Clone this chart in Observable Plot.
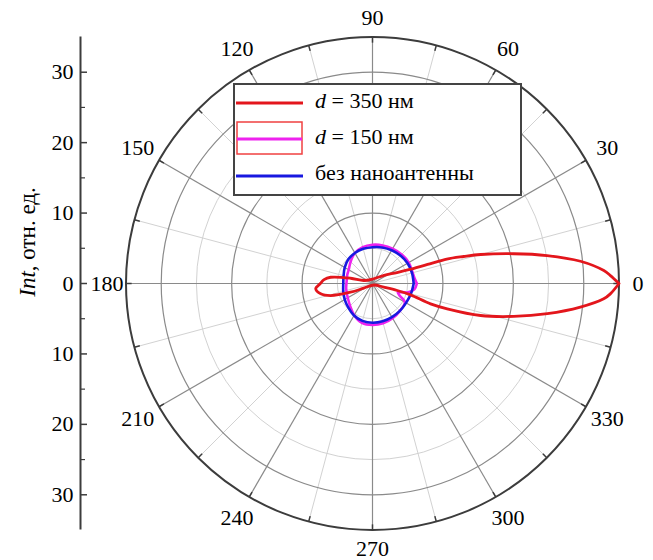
<!DOCTYPE html>
<html>
<head>
<meta charset="utf-8">
<script src="https://cdn.jsdelivr.net/npm/d3@7"></script>
<script src="https://cdn.jsdelivr.net/npm/@observablehq/plot@0.6"></script>
<style>
  body { margin: 0; background: #fff; }
  #wrap { position: relative; width: 653px; height: 560px; font-family: "Liberation Serif", "Times New Roman", serif; }
  #ylabel { position: absolute; left: 28px; top: 242px; transform: translate(-50%, -50%) rotate(-90deg); white-space: nowrap; font-size: 23px; color: #000; font-family: "Liberation Serif", serif; }
  #legend { position: absolute; left: 233px; top: 83px; }
</style>
</head>
<body>
<div id="wrap">
  <div id="chart"></div>
  <div id="ylabel"><i>Int</i>, отн. ед.</div>
  <div id="legend"></div>
</div>
<script>
// ---- data (angle in degrees, intensity in rel. units) ----
const redAngle = [0, 1.9, 3.2, 6.1, 9.1, 11.9, 15, 16.5, 18.2, 18.9, 20.5, 24, 35.3, 74.5, 161, 166.5, 171.5, 175.4, 180, 185.3, 191.2, 196, 201.6, 208, 315, 342, 344.2, 343.4, 340.7, 341.3, 343.5, 346.9, 350.2, 353.5, 356.2, 357.5, 360];
const redInt   = [35, 33.8, 32.9, 29.7, 25.1, 20.5, 15.9, 13.5, 11.1, 8.6, 5.8, 3.8, 2.0, 0.7, 1.3, 3.2, 6.0, 6.9, 7.4, 8.1, 7.5, 6.2, 3.36, 1.4, 0.3, 1.69, 3.65, 5.63, 8.73, 11.2, 16, 20.6, 25.2, 29.7, 32.9, 33.8, 35];

const magAngle = [0, 8, 15, 30, 45, 60, 75, 90, 105, 120, 130, 140, 150, 160, 170, 180, 190, 200, 212, 225, 240, 255, 270, 285, 300, 315, 330, 336, 341, 346, 352, 360];
const magInt   = [6.3, 6.0, 5.9, 5.95, 5.85, 5.7, 5.6, 5.5, 5.35, 5.0, 4.6, 4.2, 3.9, 3.8, 3.7, 3.7, 3.8, 3.9, 4.1, 4.5, 5.2, 5.8, 5.9, 5.85, 5.7, 5.5, 5.3, 4.2, 3.8, 5.2, 6.0, 6.3];

const blueAngle = [0, 15, 30, 45, 60, 75, 90, 105, 120, 135, 150, 165, 180, 195, 210, 225, 240, 255, 270, 285, 300, 315, 330, 345, 360];
const blueInt   = [5.85, 5.8, 5.75, 5.6, 5.45, 5.3, 5.15, 5.1, 5.0, 4.85, 4.55, 4.25, 4.15, 4.3, 4.55, 4.85, 5.25, 5.5, 5.58, 5.55, 5.5, 5.5, 5.5, 5.65, 5.85];

const majorRings = [10, 20, 30];
const minorRings = [5, 15, 25];
const outerRing = [35];
const majorAngles = [0, 30, 60, 90, 120, 150, 180, 210, 240, 270, 300, 330];
const minorAngles = [15, 45, 75, 105, 135, 165, 195, 225, 255, 285, 315, 345];
const angleLabels = ["0", "30", "60", "90", "120", "150", "180", "210", "240", "270", "300", "330"];
const yTicks = [-30, -20, -10, 0, 10, 20, 30];
const yMinorTicks = [-25, -15, -5, 5, 15, 25];

const legendLabels = [["d", " = 350 нм"], ["d", " = 150 нм"], ["", "без наноантенны"]];

// ---- helpers ----
const rad = d => d * Math.PI / 180;
const X = (a, r) => r * Math.cos(rad(a));
const Y = (a, r) => r * Math.sin(rad(a));
const series = (angles, vals) => angles.map((a, i) => ({a, r: vals[i]}));

const red = series(redAngle, redInt);
const mag = series(magAngle, magInt);
const blue = series(blueAngle, blueInt);

const font = '"Liberation Serif", "Times New Roman", serif';
const gridMajor = "#8a8a8a", gridMinor = "#d2d2d2", dark = "#3c3c3c";

const chart = Plot.plot({
  width: 653,
  height: 560,
  marginLeft: 125.5,
  marginRight: 34.5,
  marginTop: 36.5,
  marginBottom: 30.5,
  x: {domain: [-35, 35], axis: null},
  y: {domain: [-35, 35], axis: null},
  r: {type: "linear", domain: [0, 35], range: [0, 246.5]},
  style: {fontFamily: font, fontSize: "22px", background: "white", color: "black"},
  marks: [
    Plot.dot(minorRings, {x: d => 0, y: d => 0, r: d => d, fill: "none", stroke: gridMinor, strokeWidth: 1}),
    Plot.link(minorAngles, {x1: d => 0, y1: d => 0, x2: a => X(a, 35), y2: a => Y(a, 35), stroke: gridMinor, strokeWidth: 1}),
    Plot.dot(majorRings, {x: d => 0, y: d => 0, r: d => d, fill: "none", stroke: gridMajor, strokeWidth: 1.2}),
    Plot.link(majorAngles, {x1: d => 0, y1: d => 0, x2: a => X(a, 35), y2: a => Y(a, 35), stroke: gridMajor, strokeWidth: 1.2}),
    Plot.link(minorAngles.concat(majorAngles), {x1: a => X(a, 34.2), y1: a => Y(a, 34.2), x2: a => X(a, 35), y2: a => Y(a, 35), stroke: dark, strokeWidth: 1.5}),
    Plot.dot(outerRing, {x: d => 0, y: d => 0, r: d => d, fill: "none", stroke: dark, strokeWidth: 2}),
    Plot.text(majorAngles, {
      x: a => X(a, 37.7 + 0.9 * Math.abs(Math.sin(rad(2 * a)))),
      y: a => Y(a, 37.7 + 0.9 * Math.abs(Math.sin(rad(2 * a)))),
      text: (a, i) => angleLabels[i],
      fontSize: 22, fill: "black", textAnchor: "middle", fontFamily: font
    }),
    Plot.line(mag, {x: d => X(d.a, d.r), y: d => Y(d.a, d.r), stroke: "#ee22ee", strokeWidth: 2.6, curve: "catmull-rom"}),
    Plot.line(blue, {x: d => X(d.a, d.r), y: d => Y(d.a, d.r), stroke: "#1818e0", strokeWidth: 2.6, curve: "catmull-rom"}),
    Plot.line(red, {x: d => X(d.a, d.r), y: d => Y(d.a, d.r), stroke: "#e3161c", strokeWidth: 2.8, curve: "catmull-rom"}),
    Plot.ruleX([-35], {dx: -45.5, stroke: dark, strokeWidth: 2}),
    Plot.axisY(yTicks, {anchor: "left", dx: -45.5, tickSize: -7, tickPadding: 14, tickFormat: d => String(Math.abs(d)), stroke: dark, strokeWidth: 1.5, fontSize: 22, fontFamily: font}),
    Plot.axisY(yMinorTicks, {anchor: "left", dx: -45.5, tickSize: -5, tickPadding: 14, tickFormat: d => "", stroke: dark, strokeWidth: 1.2})
  ]
});
document.getElementById("chart").appendChild(chart);

// ---- legend (overlaid inside the plot) ----
const lg = d3.select("#legend").append("svg").attr("width", 289).attr("height", 113)
  .style("font-family", font).style("font-size", "22px");
lg.append("rect").attr("x", 1).attr("y", 1).attr("width", 287).attr("height", 111)
  .attr("fill", "white").attr("stroke", "#444").attr("stroke-width", 2);
lg.append("line").attr("x1", 3).attr("x2", 70).attr("y1", 20).attr("y2", 20).attr("stroke", "#e3161c").attr("stroke-width", 3);
lg.append("rect").attr("x", 4).attr("y", 39).attr("width", 65).attr("height", 32).attr("fill", "none").attr("stroke", "#f04040").attr("stroke-width", 1.5);
lg.append("line").attr("x1", 4).attr("x2", 69).attr("y1", 56).attr("y2", 56).attr("stroke", "#ee22ee").attr("stroke-width", 3);
lg.append("line").attr("x1", 3).attr("x2", 70).attr("y1", 93).attr("y2", 93).attr("stroke", "#1818e0").attr("stroke-width", 3);
const baselines = [25, 61, 97];
legendLabels.forEach(([it, rest], i) => {
  const t = lg.append("text").attr("x", 82).attr("y", baselines[i]).attr("fill", "black");
  if (it) t.append("tspan").attr("font-style", "italic").text(it);
  t.append("tspan").text(rest);
});
</script>
</body>
</html>
